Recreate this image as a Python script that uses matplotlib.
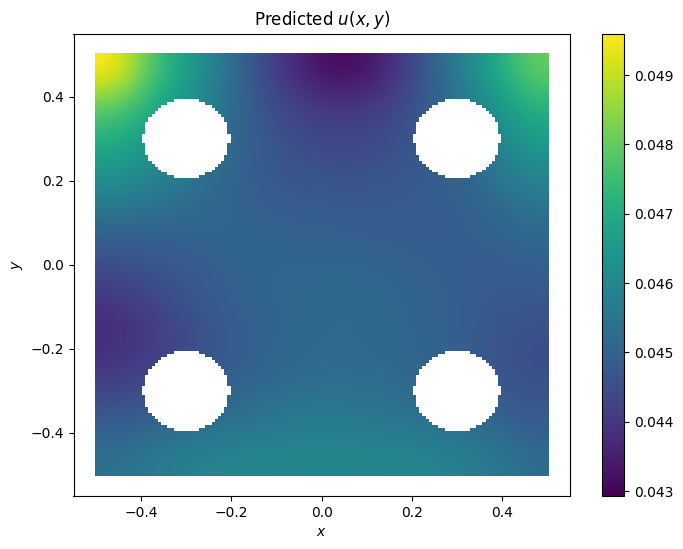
import numpy as np
import matplotlib
matplotlib.use("Agg")
import matplotlib.pyplot as plt
from matplotlib.path import Path
from matplotlib.patches import PathPatch

x_values = [-0.5, -0.4, -0.3, -0.2, -0.1, 0.0, 0.1, 0.2, 0.3, 0.4, 0.5]
y_values = [0.5, 0.4, 0.3, 0.2, 0.1, 0.0, -0.1, -0.2, -0.3, -0.4, -0.5]
u_values = [
    [.0497, .0475, .0464, .0450, .0440, .0431, .0431, .0441, .0454, .0467, .0481],
    [.0478, .0468, .0461, .0450, .0444, .0441, .0441, .0445, .0451, .0460, .0471],
    [.0469, .0463, .0458, .0450, .0446, .0444, .0444, .0446, .0450, .0456, .0465],
    [.0461, .0457, .0453, .0450, .0448, .0447, .0447, .0448, .0449, .0452, .0458],
    [.0451, .0451, .0451, .0451, .0450, .0450, .0449, .0449, .0449, .0450, .0452],
    [.0445, .0447, .0449, .0451, .0451, .0451, .0451, .0450, .0449, .0449, .0450],
    [.0439, .0443, .0447, .0450, .0451, .0452, .0452, .0451, .0450, .0448, .0447],
    [.0437, .0441, .0445, .0449, .0451, .0452, .0452, .0451, .0450, .0447, .0445],
    [.0441, .0444, .0447, .0450, .0452, .0453, .0453, .0452, .0450, .0448, .0445],
    [.0448, .0450, .0452, .0454, .0456, .0457, .0456, .0455, .0453, .0451, .0448],
    [.0454, .0457, .0459, .0460, .0460, .0460, .0460, .0460, .0459, .0457, .0453],
]
hole_centers = [(-0.3, 0.3), (0.3, 0.3), (-0.3, -0.3), (0.3, -0.3)]
hole_radius = 0.095
grid_step = 0.007
u_min, u_max = 0.04293, 0.0496


def stair_hole(cx, cy, r, step):
    """Outline of a round hole in a point lattice: one stair per lattice row."""
    n = int(r / step)
    rows = np.arange(-n, n + 1) * step
    half = np.round(np.sqrt(np.maximum(r**2 - rows**2, 0)) / step) * step
    right, left = [], []
    for dy, w in zip(rows, half):
        right += [(cx + w, cy + dy - step / 2), (cx + w, cy + dy + step / 2)]
        left += [(cx - w, cy + dy - step / 2), (cx - w, cy + dy + step / 2)]
    # clockwise, opposite to the outer square
    verts = left + right[::-1] + [left[0]]
    return Path(verts, [Path.MOVETO] + [Path.LINETO] * (len(verts) - 2) + [Path.CLOSEPOLY])


W, H = 683, 549
fig = plt.figure(figsize=(W / 100, H / 100), dpi=100)
ax = fig.add_axes([73.5 / W, 1 - 496 / H, (570 - 73.5) / W, (496 - 33.5) / H])
cax = fig.add_axes([602 / W, 1 - 496 / H, 22 / W, (496 - 33.5) / H])

edge = 0.503
im = ax.imshow(np.array(u_values), extent=[-edge, edge, -edge, edge], origin="upper",
               cmap="viridis", vmin=u_min, vmax=u_max, aspect="auto",
               interpolation="bicubic")

square = Path([(-edge, -edge), (edge, -edge), (edge, edge), (-edge, edge), (-edge, -edge)],
              [Path.MOVETO, Path.LINETO, Path.LINETO, Path.LINETO, Path.CLOSEPOLY])
paths = [square] + [stair_hole(cx, cy, hole_radius, grid_step) for cx, cy in hole_centers]
clip = PathPatch(Path.make_compound_path(*paths), transform=ax.transData,
                 facecolor="none", edgecolor="none")
ax.add_patch(clip)
im.set_clip_path(clip)

ax.set_xlim(-0.55, 0.55)
ax.set_ylim(-0.55, 0.55)
ax.set_xticks([-0.4, -0.2, 0.0, 0.2, 0.4])
ax.set_yticks([-0.4, -0.2, 0.0, 0.2, 0.4])
ax.set_xlabel("$x$")
ax.set_ylabel("$y$")
ax.set_title("Predicted $u(x,y)$")
fig.colorbar(im, cax=cax)

fig.savefig("out.png", dpi=100)
